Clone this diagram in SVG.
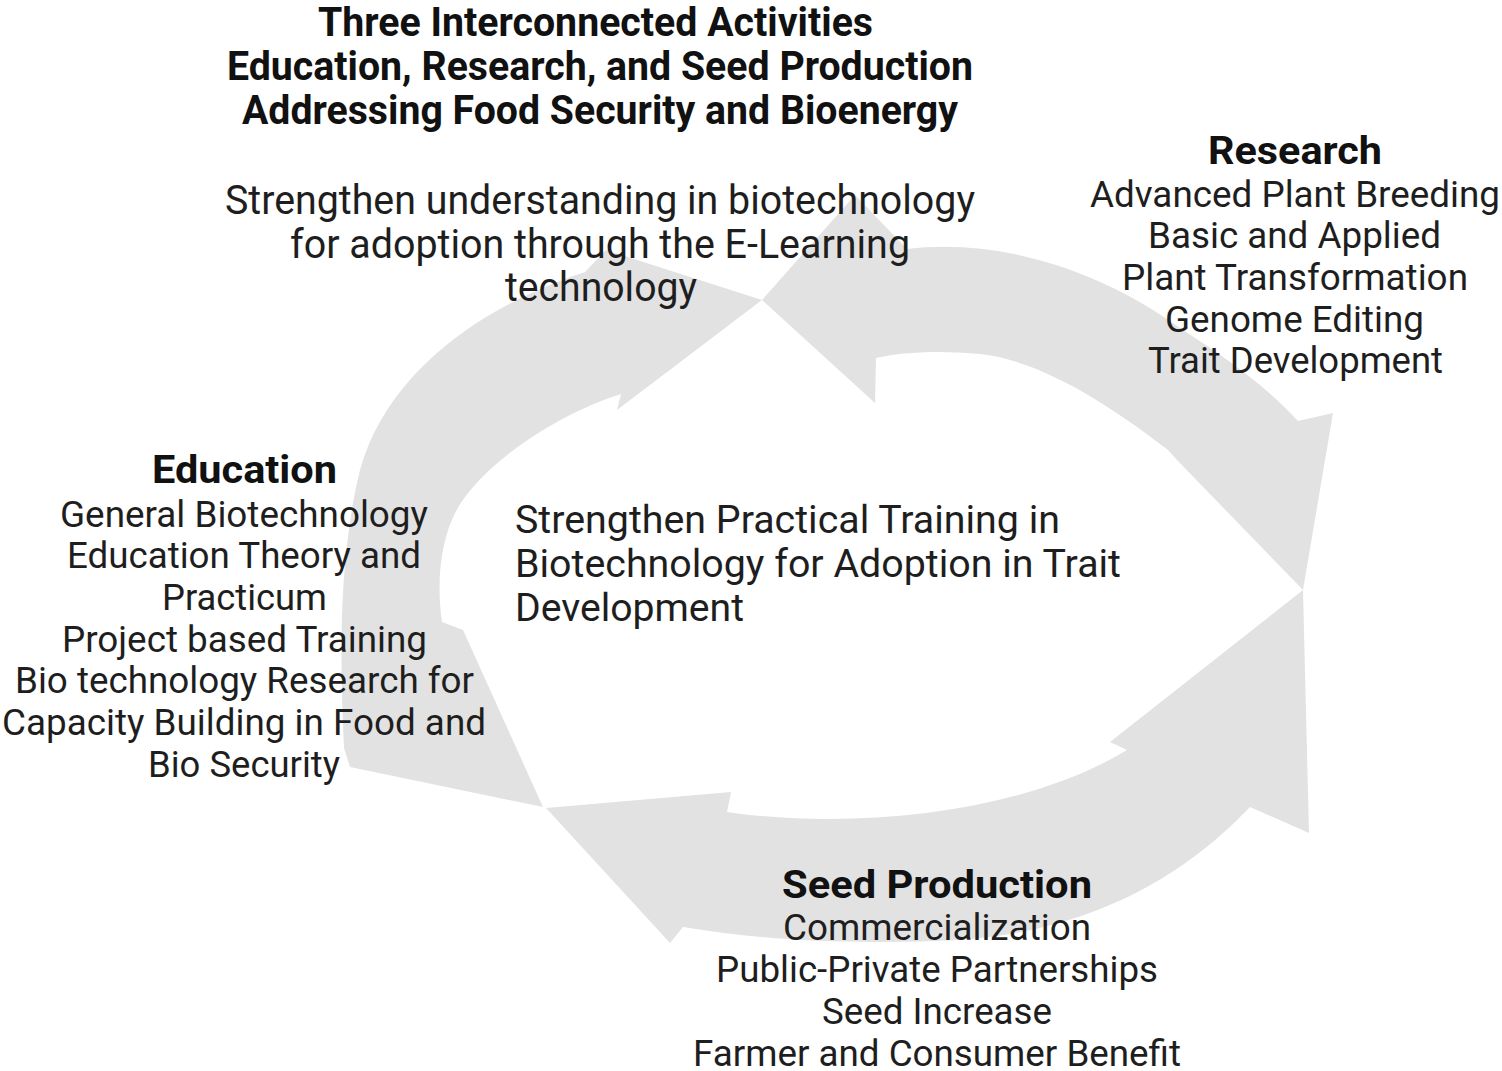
<svg xmlns="http://www.w3.org/2000/svg" width="1502" height="1071" viewBox="0 0 1502 1071">
<style>
.arc{fill:#e2e2e2;stroke:none}
.t{font-family:Roboto,"Liberation Sans",sans-serif;fill:#1e1e1e;text-anchor:middle}
.h{font-weight:bold;fill:#111}
.title{font-size:40px}
.sub{font-size:40px}
.head{font-size:38px}
.item{font-size:36px}
.ctr{font-family:Roboto,"Liberation Sans",sans-serif;fill:#1e1e1e;font-size:39px;text-anchor:start}
</style>
<rect width="1502" height="1071" fill="#ffffff"/>
<g id="connectors">
  <path id="arrow-left" class="arc" d="M762,300 L617,410 L621,394 C570,410 500,450 465,497 C440,530 436,580 442,622 L463,630 L543,807 L350,767 L344,748 C340,660 338,560 360,470 C385,380 470,310 585,272 L606,250 Z"/>
  <path id="arrow-top-right" class="arc" d="M762,300 L855,195 L907,249 C1000,238 1100,270 1180,328 C1230,360 1270,390 1298,421 L1333,413 L1303,590 L1177,460 L1168,450 C1110,405 1040,360 980,354 C940,350 900,352 876,358 L875,403 Z"/>
  <path id="arrow-bottom" class="arc" d="M1303,590 L1309,833 L1250,807 C1190,870 1100,930 960,940 C850,945 760,940 683,927 L670,943 L546,808 L731,792 L727,812 C850,830 1020,815 1127,750 L1110,742 Z"/>
</g>
<g id="title">
  <text class="t h title" x="595.5" y="36" textLength="555" lengthAdjust="spacingAndGlyphs">Three Interconnected Activities</text>
  <text class="t h title" x="600" y="80" textLength="746" lengthAdjust="spacingAndGlyphs">Education, Research, and Seed Production</text>
  <text class="t h title" x="600" y="124" textLength="716" lengthAdjust="spacingAndGlyphs">Addressing Food Security and Bioenergy</text>
</g>
<g id="elearning">
  <text class="t sub" x="600" y="214" textLength="750" lengthAdjust="spacingAndGlyphs">Strengthen understanding in biotechnology</text>
  <text class="t sub" x="600" y="258" textLength="620" lengthAdjust="spacingAndGlyphs">for adoption through the E-Learning</text>
  <text class="t sub" x="601" y="301" textLength="192" lengthAdjust="spacingAndGlyphs">technology</text>
</g>
<g id="research">
  <text class="t h head" x="1295" y="164" textLength="174" lengthAdjust="spacingAndGlyphs">Research</text>
  <text class="t item" x="1295" y="207" textLength="410" lengthAdjust="spacingAndGlyphs">Advanced Plant Breeding</text>
  <text class="t item" x="1294.5" y="248" textLength="293" lengthAdjust="spacingAndGlyphs">Basic and Applied</text>
  <text class="t item" x="1295" y="290" textLength="346" lengthAdjust="spacingAndGlyphs">Plant Transformation</text>
  <text class="t item" x="1294.5" y="332" textLength="259" lengthAdjust="spacingAndGlyphs">Genome Editing</text>
  <text class="t item" x="1295.5" y="373" textLength="295" lengthAdjust="spacingAndGlyphs">Trait Development</text>
</g>
<g id="education">
  <text class="t h head" x="244.5" y="483" textLength="185" lengthAdjust="spacingAndGlyphs">Education</text>
  <text class="t item" x="244" y="527" textLength="368" lengthAdjust="spacingAndGlyphs">General Biotechnology</text>
  <text class="t item" x="244" y="568" textLength="354" lengthAdjust="spacingAndGlyphs">Education Theory and</text>
  <text class="t item" x="244.5" y="610" textLength="165" lengthAdjust="spacingAndGlyphs">Practicum</text>
  <text class="t item" x="244.5" y="652" textLength="365" lengthAdjust="spacingAndGlyphs">Project based Training</text>
  <text class="t item" x="244.5" y="693" textLength="459" lengthAdjust="spacingAndGlyphs">Bio technology Research for</text>
  <text class="t item" x="244" y="735" textLength="484" lengthAdjust="spacingAndGlyphs">Capacity Building in Food and</text>
  <text class="t item" x="244" y="777" textLength="192" lengthAdjust="spacingAndGlyphs">Bio Security</text>
</g>
<g id="practical">
  <text class="ctr" x="515" y="533" textLength="545" lengthAdjust="spacingAndGlyphs">Strengthen Practical Training in</text>
  <text class="ctr" x="515" y="577" textLength="606" lengthAdjust="spacingAndGlyphs">Biotechnology for Adoption in Trait</text>
  <text class="ctr" x="515" y="621" textLength="229" lengthAdjust="spacingAndGlyphs">Development</text>
</g>
<g id="seed-production">
  <text class="t h head" x="937" y="898" textLength="310" lengthAdjust="spacingAndGlyphs">Seed Production</text>
  <text class="t item" x="937" y="940" textLength="308" lengthAdjust="spacingAndGlyphs">Commercialization</text>
  <text class="t item" x="937" y="982" textLength="442" lengthAdjust="spacingAndGlyphs">Public-Private Partnerships</text>
  <text class="t item" x="937" y="1024" textLength="230" lengthAdjust="spacingAndGlyphs">Seed Increase</text>
  <text class="t item" x="937" y="1066" textLength="488" lengthAdjust="spacingAndGlyphs">Farmer and Consumer Benefit</text>
</g>
</svg>
